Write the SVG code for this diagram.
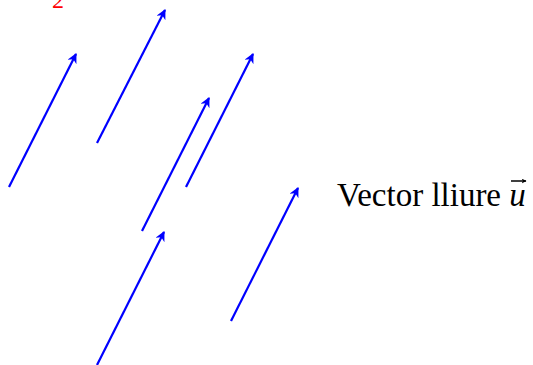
<svg xmlns="http://www.w3.org/2000/svg" width="533" height="365" viewBox="0 0 533 365">
<style>
.v{stroke:#0000ff;stroke-width:2.2;fill:none;marker-end:url(#ah)}
.lbl{font-family:"Liberation Serif","DejaVu Serif",serif;fill:#000}
</style>
<defs>
<marker id="ah" viewBox="0 0 10 10" refX="9" refY="5" markerWidth="12" markerHeight="10" markerUnits="userSpaceOnUse" orient="auto">
<path d="M0,0 L10,5 L0,10 L3,5 Z" fill="#0000ff"/>
</marker>
<marker id="uh" viewBox="0 0 10 10" refX="9" refY="5" markerWidth="5" markerHeight="5" markerUnits="userSpaceOnUse" orient="auto">
<path d="M0,0 L10,5 L0,10 L3,5 Z" fill="#000"/>
</marker>
</defs>
<rect width="533" height="365" fill="#fff"/>
<text x="52" y="8" font-family="'Liberation Serif',serif" font-size="24" fill="#ff0000">2</text>
<g id="connectors">
<line id="v1" class="v" x1="9" y1="187" x2="76" y2="54"/>
<line id="v2" class="v" x1="97" y1="143" x2="165" y2="10"/>
<line id="v3" class="v" x1="142" y1="231" x2="209" y2="98"/>
<line id="v4" class="v" x1="186" y1="187" x2="253" y2="54"/>
<line id="v5" class="v" x1="97" y1="365" x2="164" y2="232"/>
<line id="v6" class="v" x1="231" y1="321" x2="298" y2="188"/>
</g>
<g id="label">
<text class="lbl" x="337" y="206" font-size="33">Vector lliure <tspan font-style="italic">u</tspan></text>
<line x1="511" y1="181" x2="526" y2="181" stroke="#000" stroke-width="1.5" marker-end="url(#uh)"/>
</g>
</svg>
